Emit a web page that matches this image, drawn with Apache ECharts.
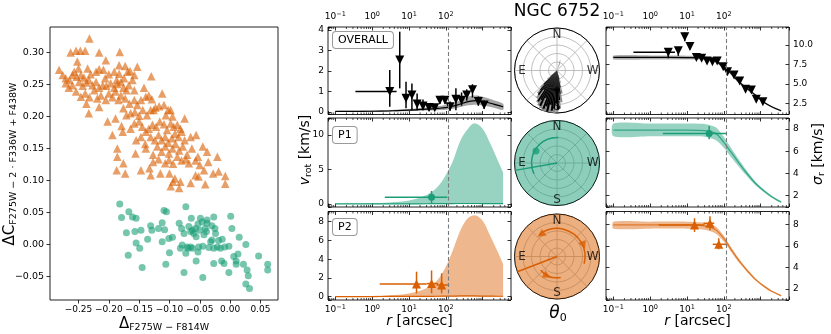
<!DOCTYPE html>
<html>
<head>
<meta charset="utf-8">
<script src="https://cdn.jsdelivr.net/npm/echarts@6/dist/echarts.min.js"></script>
<style>
  html, body { margin: 0; padding: 0; background: #fff; }
  #chart { width: 831px; height: 334px; }
</style>
</head>
<body>
<div id="chart"></div>
<script>
const FONT = 'DejaVu Sans';
const GREEN = '#1b9e77';
const ORANGE = '#d95f02';
const INK = '#000';

// ---- left panel: colour-colour plane ----
const xRangeCC = [-0.297, 0.079];
const yRangeCC = [-0.087, 0.340];
const xTicksCC = [-0.25, -0.2, -0.15, -0.1, -0.05, 0, 0.05];
const yTicksCC = [-0.05, 0, 0.05, 0.1, 0.15, 0.2, 0.25, 0.3];
// P2 stars (orange triangles)
const p2Stars = [
  [-0.232,0.322],[-0.263,0.300],[-0.254,0.303],[-0.247,0.303],[-0.239,0.303],[-0.216,0.300],[-0.182,0.301],[-0.205,0.288],[-0.282,0.273],[-0.252,0.286],[-0.250,0.275],[-0.235,0.275],[-0.183,0.280],[-0.173,0.279],[-0.165,0.271],[-0.153,0.278],[-0.130,0.263],
  [-0.276,0.265],[-0.271,0.260],[-0.265,0.257],[-0.260,0.265],[-0.257,0.270],[-0.253,0.262],[-0.246,0.265],[-0.241,0.261],[-0.233,0.257],[-0.230,0.266],[-0.221,0.270],[-0.216,0.274],[-0.209,0.273],[-0.206,0.260],[-0.200,0.266],[-0.191,0.270],[-0.187,0.257],[-0.183,0.267],[-0.175,0.260],[-0.169,0.270],[-0.161,0.257],[-0.158,0.265],
  [-0.271,0.252],[-0.266,0.245],[-0.260,0.249],[-0.249,0.254],[-0.243,0.248],[-0.237,0.253],[-0.227,0.249],[-0.221,0.254],[-0.216,0.245],[-0.210,0.249],[-0.204,0.248],[-0.197,0.252],[-0.191,0.245],[-0.186,0.251],[-0.180,0.254],[-0.176,0.245],[-0.171,0.241],[-0.167,0.249],[-0.158,0.241],[-0.142,0.245],
  [-0.254,0.239],[-0.246,0.231],[-0.239,0.236],[-0.232,0.230],[-0.224,0.241],[-0.219,0.228],[-0.213,0.233],[-0.205,0.226],[-0.200,0.236],[-0.194,0.230],[-0.189,0.239],[-0.184,0.226],[-0.180,0.233],[-0.173,0.228],[-0.166,0.220],[-0.158,0.226],[-0.153,0.218],[-0.147,0.226],[-0.139,0.231],[-0.134,0.233],[-0.129,0.227],[-0.123,0.214],[-0.112,0.236],[-0.109,0.218],[-0.102,0.210],
  [-0.233,0.205],[-0.237,0.220],[-0.216,0.215],[-0.202,0.192],[-0.189,0.197],[-0.176,0.213],[-0.171,0.202],[-0.164,0.205],[-0.157,0.207],[-0.150,0.201],[-0.144,0.210],[-0.137,0.202],[-0.131,0.210],[-0.126,0.210],[-0.117,0.216],[-0.106,0.202],[-0.098,0.210],[-0.095,0.200],
  [-0.194,0.171],[-0.179,0.185],[-0.177,0.176],[-0.164,0.181],[-0.158,0.189],[-0.150,0.192],[-0.145,0.184],[-0.139,0.176],[-0.134,0.181],[-0.128,0.187],[-0.122,0.184],[-0.116,0.192],[-0.109,0.188],[-0.104,0.179],[-0.098,0.189],[-0.093,0.184],[-0.087,0.187],[-0.082,0.181],[-0.075,0.197],
  [-0.155,0.163],[-0.147,0.168],[-0.140,0.157],[-0.131,0.168],[-0.124,0.163],[-0.118,0.171],[-0.113,0.163],[-0.107,0.168],[-0.102,0.159],[-0.096,0.166],[-0.091,0.173],[-0.085,0.168],[-0.080,0.176],[-0.075,0.163],[-0.065,0.168],[-0.056,0.171],
  [-0.186,0.150],[-0.156,0.142],[-0.139,0.150],[-0.127,0.140],[-0.120,0.153],[-0.113,0.145],[-0.107,0.153],[-0.101,0.142],[-0.095,0.150],[-0.090,0.157],[-0.084,0.147],[-0.078,0.153],[-0.071,0.140],[-0.063,0.150],[-0.053,0.137],[-0.045,0.153],[-0.038,0.145],[-0.021,0.137],
  [-0.186,0.137],[-0.176,0.127],[-0.147,0.116],[-0.133,0.119],[-0.127,0.129],[-0.118,0.133],[-0.107,0.127],[-0.101,0.132],[-0.094,0.126],[-0.087,0.137],[-0.080,0.131],[-0.073,0.133],[-0.068,0.127],[-0.057,0.131],[-0.050,0.124],[-0.043,0.116],[-0.036,0.129],[-0.028,0.111],
  [-0.187,0.116],[-0.173,0.111],[-0.131,0.108],[-0.115,0.111],[-0.100,0.111],[-0.094,0.098],[-0.091,0.103],[-0.082,0.098],[-0.065,0.096],[-0.057,0.108],[-0.052,0.106],[-0.041,0.094],[-0.019,0.114],[-0.008,0.107],[-0.008,0.095],[-0.098,0.091],[-0.084,0.088]
];
// P1 stars (green circles)
const p1Stars = [
  [-0.182,0.063],[-0.179,0.042],[-0.167,0.051],[-0.161,0.043],[-0.155,0.041],[-0.171,0.018],[-0.157,0.020],[-0.147,0.022],[-0.155,0.002],[-0.168,-0.017],[-0.149,-0.006],[-0.136,0.008],[-0.131,0.029],[-0.129,0.022],[-0.118,0.025],[-0.112,0.034],[-0.109,0.053],[-0.105,0.051],[-0.108,0.023],[-0.112,0.004],[-0.101,0.009],[-0.095,0.011],[-0.100,-0.013],[-0.106,-0.031],[-0.145,-0.036],
  [-0.084,0.033],[-0.080,0.025],[-0.073,0.059],[-0.068,0.028],[-0.065,0.020],[-0.064,0.041],[-0.060,0.017],[-0.057,0.025],[-0.056,0.012],[-0.053,0.032],[-0.052,-0.004],[-0.071,-0.004],[-0.065,-0.004],[-0.076,0.017],[-0.069,-0.006],[-0.062,-0.006],[-0.050,0.022],[-0.049,0.041],[-0.046,0.035],[-0.043,0.015],[-0.041,0.025],[-0.039,0.020],[-0.038,0.038],
  [-0.035,-0.005],[-0.032,0.004],[-0.030,0.007],[-0.027,-0.006],[-0.024,0.017],[-0.021,-0.004],[-0.019,0.006],[-0.016,-0.006],[-0.013,0.008],[-0.009,-0.004],[-0.002,-0.003],[0.001,0.044],[0.003,0.025],[-0.025,0.025],[-0.030,0.029],[-0.027,0.043],[-0.038,0.033],[-0.045,-0.003],[-0.053,-0.012],[-0.062,0.022],[-0.073,-0.014],[-0.082,-0.006],[-0.079,-0.001],
  [-0.076,-0.044],[-0.056,-0.026],[-0.045,-0.052],[-0.027,-0.030],[-0.014,-0.026],[-0.010,-0.030],[-0.002,-0.044],[0.006,-0.019],[0.010,-0.026],[0.010,-0.031],[0.013,-0.015],[0.015,0.011],[0.022,-0.031],[0.026,0.000],[0.028,-0.040],[0.030,-0.049],[0.026,-0.062],[0.032,-0.069],[0.047,-0.018],[0.062,-0.031],[0.062,-0.040]
];

// ---- radial profiles ----
const rRange = [0.063, 5900];
const rCut = 120;
const rMinor = [0.07,0.08,0.09,0.2,0.3,0.4,0.5,0.6,0.7,0.8,0.9,2,3,4,5,6,7,8,9,20,30,40,50,60,70,80,90,200,300,400,500,600,700,800,900,2000,3000,4000,5000];

const vRanges = [[-0.13, 4.15], [-0.43, 12.46], [-0.35, 9.09]];
const vSteps = [1, 5, 2];
const sRanges = [[1.05, 12.32], [0.97, 8.99], [0.99, 9.19]];
const sSteps = [2.5, 2, 2];

// model of v_rot, overall sample
const rModelV = [0.1, 0.3, 1, 3, 10, 30, 60, 100, 200, 400, 700, 1200, 2000, 3600];
const ovVMid = [0.02, 0.02, 0.03, 0.05, 0.08, 0.13, 0.17, 0.21, 0.33, 0.5, 0.55, 0.48, 0.38, 0.25];
const ovVLo  = [0.0, 0.0, 0.01, 0.02, 0.03, 0.06, 0.08, 0.1, 0.19, 0.32, 0.35, 0.3, 0.2, 0.1];
const ovVHi  = [0.04, 0.05, 0.06, 0.09, 0.14, 0.21, 0.27, 0.33, 0.5, 0.74, 0.8, 0.7, 0.57, 0.4];
// upper envelope of v_rot for P1 / P2
const rModelA = [0.1, 1, 3, 10, 30, 60, 100, 150, 250, 400, 600, 1000, 1600, 2500, 3600];
const p1VHi  = [0.05, 0.12, 0.22, 0.5, 1.3, 2.5, 4.2, 6.0, 9.2, 10.9, 11.7, 10.9, 8.8, 6.5, 4.6];
const p1VMid = [0.02, 0.02, 0.03, 0.03, 0.04, 0.05, 0.06, 0.07, 0.08, 0.08, 0.08, 0.07, 0.06, 0.05, 0.05];
const p2VHi  = [0.03, 0.08, 0.15, 0.35, 0.9, 1.8, 3.2, 4.8, 7.1, 8.4, 8.7, 8.1, 6.5, 4.9, 3.5];
const p2VMid = [0.02, 0.02, 0.03, 0.03, 0.04, 0.05, 0.06, 0.07, 0.08, 0.08, 0.08, 0.07, 0.06, 0.05, 0.05];
// dispersion models
const rModelS = [0.1, 1, 10, 30, 60, 100, 150, 250, 400, 700, 1200, 2000, 3600];
const ovSMid = [8.4, 8.4, 8.38, 8.3, 7.95, 7.1, 6.45, 5.3, 4.5, 3.6, 2.65, 2.05, 1.53];
const ovSLo  = [8.15, 8.15, 8.13, 8.05, 7.72, 6.9, 6.25, 5.12, 4.33, 3.45, 2.53, 1.95, 1.43];
const ovSHi  = [8.65, 8.65, 8.63, 8.55, 8.18, 7.3, 6.65, 5.48, 4.67, 3.75, 2.77, 2.15, 1.63];
const p1SMid = [7.9, 7.9, 7.9, 7.85, 7.6, 6.8, 6.0, 5.0, 4.1, 3.15, 2.45, 1.9, 1.42];
const p1SLo  = [7.35, 7.35, 7.35, 7.3, 7.0, 6.3, 5.55, 4.65, 3.85, 2.97, 2.32, 1.8, 1.33];
const p1SHi  = [8.5, 8.5, 8.5, 8.45, 8.15, 7.3, 6.4, 5.3, 4.35, 3.32, 2.57, 1.99, 1.5];
const p2SMid = [7.95, 7.95, 7.95, 7.85, 7.5, 6.7, 5.8, 4.7, 3.85, 2.95, 2.3, 1.8, 1.4];
const p2SLo  = [7.6, 7.6, 7.6, 7.5, 7.15, 6.4, 5.55, 4.5, 3.7, 2.83, 2.2, 1.73, 1.34];
const p2SHi  = [8.25, 8.25, 8.25, 8.15, 7.8, 6.95, 6.0, 4.88, 3.98, 3.05, 2.38, 1.87, 1.46];

// binned measurements
const ovVR   = [3.0, 5.6, 8.3, 12, 16.6, 24, 35, 50, 69, 95, 130, 188, 268, 370, 530, 765, 1100];
const ovVV   = [1.0, 2.53, 0.66, 0.82, 0.38, 0.28, 0.21, 0.2, 0.57, 0.57, 0.25, 0.62, 0.57, 0.82, 1.08, 0.5, 0.34];
const ovVVlo = [0.25, 1.15, 0.17, 0.08, 0.08, 0.08, 0.05, 0.08, 0.4, 0.4, 0.05, 0.08, 0.3, 0.55, 0.7, 0.3, 0.15];
const ovVVhi = [2.05, 3.92, 1.47, 1.39, 0.9, 0.6, 0.4, 0.35, 0.75, 0.75, 0.5, 1.16, 0.95, 1.1, 1.35, 0.75, 0.55];
const ovVRlo = [0.35, 5.6, 8.3, 12, 16.6, 24, 35, 50, 69, 95, 130, 188, 268, 370, 530, 765, 1100];
const ovVRhi = [4.6, 5.6, 8.3, 12, 16.6, 24, 35, 50, 69, 95, 130, 188, 268, 370, 530, 765, 1100];

const ovSR   = [3.1, 5.8, 8.7, 12, 18, 25, 35, 49, 66, 96, 126, 190, 270, 390, 560, 760, 1150];
const ovSS   = [9.06, 9.27, 11.07, 9.8, 8.4, 8.28, 7.94, 7.85, 7.94, 7.2, 6.56, 6.13, 5.36, 4.29, 4.2, 3.0, 2.7];
const ovSSlo = [8.29, 8.6, 10.5, 9.45, 8.15, 8.05, 7.72, 7.62, 7.7, 6.95, 6.32, 5.88, 5.08, 4.02, 3.93, 2.75, 2.45];
const ovSShi = [9.57, 9.75, 11.6, 10.15, 8.65, 8.5, 8.16, 8.08, 8.18, 7.45, 6.8, 6.38, 5.64, 4.56, 4.47, 3.25, 2.95];
const ovSRlo = [0.35, 5.8, 8.7, 12, 18, 25, 35, 49, 66, 96, 126, 190, 270, 390, 560, 760, 1150];
const ovSRhi = [4.7, 5.8, 8.7, 12, 18, 25, 35, 49, 66, 96, 126, 190, 270, 390, 560, 760, 1150];

const p1VR = [41], p1VV = [0.97], p1VVlo = [0.1], p1VVhi = [1.9], p1VRlo = [2.2], p1VRhi = [110];
const p1SR = [40], p1SS = [7.6], p1SSlo = [7.07], p1SShi = [8.27], p1SRlo = [2.2], p1SRhi = [117];
const p2VR = [16, 41, 77], p2VV = [1.35, 1.4, 1.25], p2VVlo = [0.36, 0.36, 0.36], p2VVhi = [2.67, 2.8, 2.5];
const p2VRlo = [1.6, 30, 56], p2VRhi = [30, 62, 123];
const p2SR = [16, 42, 73], p2SS = [7.94, 8.1, 6.15], p2SSlo = [7.3, 7.45, 5.7], p2SShi = [8.56, 8.75, 6.7];
const p2SRlo = [1.7, 28, 50], p2SRhi = [30, 55, 120];

// ---- position-angle panels ----
const histPA = [132,135,138,141,144,147,150,153,156,159,162,165,168,171,174,177,180,183,186,189,192];
const histR  = [0.2,0.45,0.6,0.72,0.55,0.85,0.78,0.92,0.7,0.96,0.88,1.0,0.82,0.95,0.9,0.78,0.92,0.7,0.55,0.4,0.2];
const histW = 3;
const shadePA = [130,134,138,142,146,150,154,158,162,166,170,174,178,182,186,190,194,336,340];
const shadeR  = [0.3,0.55,0.7,0.8,0.88,0.93,0.97,1.0,1.0,1.0,1.0,1.0,0.97,0.9,0.75,0.55,0.3,0.2,0.25];
const shadeW = 4;
const p1Theta = 100, p2Theta = 111;
const p1Arcs = [[0.6, 357, 115]];
const p1Dot = [[0.57, 60]];
const p2Arcs = [[0.66, 255, 40], [0.5, 130, 190]];
const p2Heads = [[0.64, 36, 126], [0.68, 293, 203], [0.51, 153, 245]];
const compassTxt = ['N', 'E', 'S', 'W'];
const compassPA = [0, 90, 180, 270];
const compassR = [0.85, 0.82, 0.86, 0.84];

// ---------------------------------------------------------------
const onStep = (v, step) => Math.abs(v / step - Math.round(v / step)) < 1e-6;
const minus = s => s.replace('-', '\u2212');
const zip = (a, b) => a.map((x, i) => [x, b[i]]);
const tickLine = {color: INK, width: 0.8};

const grids = [{left: 50, top: 27, width: 228, height: 273}];
const gridTops = [27, 118, 211.5], gridHeights = [87.5, 89, 88.5];
[328, 606].forEach(l => gridTops.forEach((t, i) => grids.push({left: l, top: t, width: 183, height: gridHeights[i]})));
grids.forEach(g => Object.assign(g, {show: true, borderColor: '#222', borderWidth: 1, outerBoundsMode: 'none'}));

function logAxis(k, pos, labels) {
  return {
    type: 'log', gridIndex: k + 1, position: pos, min: rRange[0], max: rRange[1], logBase: 10,
    axisLine: {show: false, onZero: false}, splitLine: {show: false},
    axisTick: {show: true, inside: true, length: 3.5, lineStyle: tickLine},
    axisLabel: {
      show: labels, margin: 4, color: INK, fontFamily: FONT, fontSize: 9,
      formatter: v => {
        const l = Math.log10(v), e = Math.round(l);
        if (Math.abs(l - e) > 1e-6 || e > 2) return '';
        return '{b|10}{s|' + (e < 0 ? '\u2212' + (-e) : e) + '}';
      },
      rich: {
        b: {fontSize: 9, lineHeight: 12, fontFamily: FONT, color: INK},
        s: {fontSize: 6.5, lineHeight: 6, verticalAlign: 'top', fontFamily: FONT, color: INK}
      }
    }
  };
}
function valAxis(k, pos, range, step, labels, digits) {
  return {
    type: 'value', gridIndex: k + 1, position: pos, min: range[0], max: range[1],
    minInterval: step, maxInterval: step, splitNumber: Math.round((range[1] - range[0]) / step),
    axisLine: {show: false, onZero: false}, splitLine: {show: false},
    axisTick: {show: true, inside: true, length: 3.5, lineStyle: tickLine},
    axisLabel: {show: labels, margin: 4, color: INK, fontFamily: FONT, fontSize: 9,
      formatter: v => onStep(v, step) ? v.toFixed(digits) : ''}
  };
}

const ccLabel = v => onStep(v, 0.05) ? minus((Math.abs(v) < 1e-9 ? 0 : v).toFixed(2)) : '';
const xAxes = [{
  type: 'value', gridIndex: 0, min: xRangeCC[0], max: xRangeCC[1], minInterval: 0.05, maxInterval: 0.05, splitNumber: 8,
  axisLine: {show: false, onZero: false}, splitLine: {show: false},
  axisTick: {show: true, length: 3.5, lineStyle: tickLine, customValues: xTicksCC},
  axisLabel: {margin: 5, color: INK, fontFamily: FONT, fontSize: 9, formatter: ccLabel, customValues: xTicksCC}
}];
const yAxes = [{
  type: 'value', gridIndex: 0, min: yRangeCC[0], max: yRangeCC[1], minInterval: 0.05, maxInterval: 0.05, splitNumber: 8,
  axisLine: {show: false, onZero: false}, splitLine: {show: false},
  axisTick: {show: true, length: 3.5, lineStyle: tickLine, customValues: yTicksCC},
  axisLabel: {margin: 6, color: INK, fontFamily: FONT, fontSize: 9.5, formatter: ccLabel, customValues: yTicksCC}
}];
for (let k = 0; k < 6; k++) {
  const row = k % 3, sigma = k >= 3;
  xAxes.push(logAxis(k, 'bottom', row === 2));
  xAxes.push(logAxis(k, 'top', row === 0));
  const range = sigma ? sRanges[row] : vRanges[row];
  const step = sigma ? sSteps[row] : vSteps[row];
  const digits = step === 2.5 ? 1 : 0;
  yAxes.push(valAxis(k, 'left', range, step, !sigma, digits));
  yAxes.push(valAxis(k, 'right', range, step, sigma, digits));
}

const cutLine = {
  silent: true, symbol: ['none', 'none'], label: {show: false},
  lineStyle: {color: '#7a7a7a', type: [4, 2.5], width: 1.1}, data: [{xAxis: rCut}]
};
const ax = k => ({xAxisIndex: 1 + 2 * k, yAxisIndex: 1 + 2 * k});

// credible band: one polygon through the axis scales
function bandSeries(k, xs, lo, hi, color) {
  return Object.assign({
    type: 'custom', silent: true, encode: {x: 0, y: 1},
    data: [[xs[0], lo[0]]],
    renderItem: (params, api) => {
      const top = xs.map((x, i) => api.coord([x, hi[i]]));
      const bot = xs.map((x, i) => api.coord([x, lo[i]])).reverse();
      return {type: 'polygon', shape: {points: top.concat(bot), smooth: 0.25}, style: {fill: color}};
    }
  }, ax(k));
}
function areaSeries(k, xs, hi, color) {
  return Object.assign({type: 'line', data: zip(xs, hi), symbol: 'none', smooth: 0.35,
    lineStyle: {opacity: 0}, areaStyle: {color: color, opacity: 1}, silent: true}, ax(k));
}
function lineSeries(k, xs, ys, color, width) {
  return Object.assign({type: 'line', data: zip(xs, ys), symbol: 'none', smooth: 0.3,
    lineStyle: {color: color, width: width}, silent: true, markLine: cutLine}, ax(k));
}
function errSeries(k, r, v, rlo, rhi, vlo, vhi, color) {
  return Object.assign({
    type: 'custom', silent: true, encode: {x: 0, y: 1},
    data: r.map((x, i) => [x, v[i], rlo[i], rhi[i], vlo[i], vhi[i]]),
    renderItem: (params, api) => {
      const x = api.value(0), y = api.value(1);
      const a = api.coord([api.value(2), y]), b = api.coord([api.value(3), y]);
      const c = api.coord([x, api.value(4)]), d = api.coord([x, api.value(5)]);
      return {type: 'group', children: [
        {type: 'line', shape: {x1: a[0], y1: a[1], x2: b[0], y2: b[1]}, style: {stroke: color, lineWidth: 1.5}},
        {type: 'line', shape: {x1: c[0], y1: c[1], x2: d[0], y2: d[1]}, style: {stroke: color, lineWidth: 1.5}}
      ]};
    }
  }, ax(k));
}
function pointSeries(k, r, v, color, symbol, rot, size) {
  return Object.assign({type: 'scatter', data: zip(r, v), symbol: symbol, symbolRotate: rot,
    symbolSize: size, itemStyle: {color: color, opacity: 1}, silent: true, z: 4}, ax(k));
}
function minorSeries(k) {
  return Object.assign({
    type: 'custom', silent: true, clip: false, encode: {x: 0, y: 1},
    data: rMinor.map(v => [v, 1]),
    renderItem: (params, api) => {
      const cs = params.coordSys;
      const x = api.coord([api.value(0), 1])[0];
      const yb = cs.y + cs.height, yt = cs.y;
      return {type: 'group', children: [
        {type: 'line', shape: {x1: x, y1: yb, x2: x, y2: yb - 2}, style: {stroke: INK, lineWidth: 0.7}},
        {type: 'line', shape: {x1: x, y1: yt, x2: x, y2: yt + 2}, style: {stroke: INK, lineWidth: 0.7}}
      ]};
    }
  }, ax(k));
}

// polar helpers
const polarXY = (api, r, a) => api.coord([r, a]);
function sectorSeries(pi, starts, radii, width, color) {
  return {
    type: 'custom', coordinateSystem: 'polar', polarIndex: pi, silent: true, encode: {radius: 0, angle: 1},
    data: starts.map((a, i) => [radii[i], a, a + width]),
    renderItem: (params, api) => {
      const c = polarXY(api, 0, 0), r = api.value(0);
      const p0 = polarXY(api, r, api.value(1)), p1 = polarXY(api, r, api.value(2));
      return {type: 'sector', shape: {
        cx: c[0], cy: c[1], r0: 0, r: Math.hypot(p0[0] - c[0], p0[1] - c[1]),
        startAngle: Math.atan2(p0[1] - c[1], p0[0] - c[0]),
        endAngle: Math.atan2(p1[1] - c[1], p1[0] - c[0]), clockwise: false
      }, style: {fill: color}};
    }
  };
}
function diskSeries(pi, color) {
  return {
    type: 'custom', coordinateSystem: 'polar', polarIndex: pi, silent: true, encode: {radius: 0, angle: 1},
    data: [[1, 0]],
    renderItem: (params, api) => {
      const c = polarXY(api, 0, 0), p = polarXY(api, api.value(0), 0);
      return {type: 'circle', shape: {cx: c[0], cy: c[1], r: Math.hypot(p[0] - c[0], p[1] - c[1])}, style: {fill: color}};
    }
  };
}
function arcSeries(pi, arcs, color) {
  return {
    type: 'custom', coordinateSystem: 'polar', polarIndex: pi, silent: true, encode: {radius: 0, angle: 1},
    data: arcs,
    renderItem: (params, api) => {
      const c = polarXY(api, 0, 0), r = api.value(0);
      const p0 = polarXY(api, r, api.value(1)), p1 = polarXY(api, r, api.value(2));
      return {type: 'arc', shape: {
        cx: c[0], cy: c[1], r: Math.hypot(p0[0] - c[0], p0[1] - c[1]),
        startAngle: Math.atan2(p0[1] - c[1], p0[0] - c[0]),
        endAngle: Math.atan2(p1[1] - c[1], p1[0] - c[0]), clockwise: false
      }, style: {stroke: color, lineWidth: 1.5, fill: 'none'}};
    }
  };
}
function raySeries(pi, pa, color) {
  return {type: 'line', coordinateSystem: 'polar', polarIndex: pi, silent: true, symbol: 'none',
    data: [[0, pa], [1, pa]], lineStyle: {color: color, width: 1.5}};
}
function compassSeries(pi) {
  return {
    type: 'scatter', coordinateSystem: 'polar', polarIndex: pi, silent: true, symbolSize: 1,
    itemStyle: {color: 'rgba(0,0,0,0)'}, z: 6,
    data: compassPA.map((a, j) => ({value: [compassR[j], a], name: compassTxt[j]})),
    label: {show: true, position: 'inside', formatter: '{b}', fontSize: 12, color: INK, fontFamily: FONT}
  };
}

const polarCenters = [[557, 70.5], [557, 163], [557, 256.5]];

const series = [
  {type: 'scatter', xAxisIndex: 0, yAxisIndex: 0, data: p2Stars, symbol: 'triangle', symbolSize: 8.5,
    itemStyle: {color: 'rgba(217,95,2,0.75)'}, silent: true},
  {type: 'scatter', xAxisIndex: 0, yAxisIndex: 0, data: p1Stars, symbol: 'circle', symbolSize: 7,
    itemStyle: {color: 'rgba(27,158,119,0.75)'}, silent: true},

  bandSeries(0, rModelV, ovVLo, ovVHi, 'rgba(90,90,90,0.55)'),
  lineSeries(0, rModelV, ovVMid, '#000', 1.2),
  errSeries(0, ovVR, ovVV, ovVRlo, ovVRhi, ovVVlo, ovVVhi, '#000'),
  pointSeries(0, ovVR, ovVV, '#000', 'triangle', 180, 9),

  areaSeries(1, rModelA, p1VHi, 'rgba(27,158,119,0.45)'),
  lineSeries(1, rModelA, p1VMid, GREEN, 1.2),
  errSeries(1, p1VR, p1VV, p1VRlo, p1VRhi, p1VVlo, p1VVhi, GREEN),
  pointSeries(1, p1VR, p1VV, GREEN, 'circle', 0, 7),

  areaSeries(2, rModelA, p2VHi, 'rgba(217,95,2,0.45)'),
  lineSeries(2, rModelA, p2VMid, ORANGE, 1.2),
  errSeries(2, p2VR, p2VV, p2VRlo, p2VRhi, p2VVlo, p2VVhi, ORANGE),
  pointSeries(2, p2VR, p2VV, ORANGE, 'triangle', 0, 9),

  bandSeries(3, rModelS, ovSLo, ovSHi, 'rgba(110,110,110,0.55)'),
  lineSeries(3, rModelS, ovSMid, '#000', 1.2),
  errSeries(3, ovSR, ovSS, ovSRlo, ovSRhi, ovSSlo, ovSShi, '#000'),
  pointSeries(3, ovSR, ovSS, '#000', 'triangle', 180, 9),

  bandSeries(4, rModelS, p1SLo, p1SHi, 'rgba(27,158,119,0.45)'),
  lineSeries(4, rModelS, p1SMid, 'rgba(27,158,119,0.8)', 1.3),
  errSeries(4, p1SR, p1SS, p1SRlo, p1SRhi, p1SSlo, p1SShi, GREEN),
  pointSeries(4, p1SR, p1SS, GREEN, 'circle', 0, 7),

  bandSeries(5, rModelS, p2SLo, p2SHi, 'rgba(217,95,2,0.45)'),
  lineSeries(5, rModelS, p2SMid, 'rgba(217,95,2,0.7)', 1.3),
  errSeries(5, p2SR, p2SS, p2SRlo, p2SRhi, p2SSlo, p2SShi, ORANGE),
  pointSeries(5, p2SR, p2SS, ORANGE, 'triangle', 0, 9),

  ...[0, 1, 2, 3, 4, 5].map(minorSeries),

  sectorSeries(0, shadePA, shadeR, shadeW, '#8c8c8c'),
  sectorSeries(0, histPA, histR, histW, '#000'),
  compassSeries(0),

  diskSeries(1, 'rgba(27,158,119,0.5)'),
  raySeries(1, p1Theta, GREEN),
  arcSeries(1, p1Arcs, GREEN),
  {type: 'scatter', coordinateSystem: 'polar', polarIndex: 1, silent: true, data: p1Dot,
    symbol: 'circle', symbolSize: 7, itemStyle: {color: GREEN}, z: 4},
  compassSeries(1),

  diskSeries(2, 'rgba(217,95,2,0.5)'),
  raySeries(2, p2Theta, ORANGE),
  arcSeries(2, p2Arcs, ORANGE),
  {type: 'scatter', coordinateSystem: 'polar', polarIndex: 2, silent: true, symbol: 'triangle', symbolSize: 8,
    itemStyle: {color: ORANGE}, z: 4,
    data: p2Heads.map(h => ({value: [h[0], h[1]], symbolRotate: h[2]}))},
  compassSeries(2)
];

const boxStyle = {fontSize: 11, fontFamily: FONT, fill: INK, backgroundColor: '#fff',
  borderColor: '#9a9a9a', borderWidth: 1, borderRadius: 3, padding: [3, 5, 2, 5]};
const big = {fontSize: 15, fontFamily: FONT, lineHeight: 18};
const sub = {fontSize: 9.5, fontFamily: FONT, lineHeight: 8, verticalAlign: 'bottom'};
const ital = {fontSize: 14, fontFamily: FONT, fontStyle: 'italic', lineHeight: 18};
const reg = {fontSize: 14, fontFamily: FONT, lineHeight: 18};
const centred = {align: 'center', verticalAlign: 'middle', fill: INK};

const graphic = [
  {type: 'text', x: 557, y: 12, style: Object.assign({text: 'NGC 6752', fontSize: 17, fontFamily: FONT}, centred)},
  {type: 'text', x: 558, y: 314, style: Object.assign({text: '{a|θ}{b|0}',
    rich: {a: {fontSize: 17, fontFamily: FONT, fontStyle: 'italic', lineHeight: 20}, b: {fontSize: 11, fontFamily: FONT, lineHeight: 9, verticalAlign: 'bottom'}}}, centred)},
  {type: 'text', x: 164, y: 324, style: Object.assign({text: '{a|Δ}{b|F275W − F814W}', rich: {a: big, b: sub}}, centred)},
  {type: 'text', x: 10, y: 164, rotation: Math.PI / 2, style: Object.assign({text: '{a|ΔC}{b|F275W − 2 · F336W + F438W}', rich: {a: big, b: sub}}, centred)},
  {type: 'text', x: 305, y: 150, rotation: Math.PI / 2, style: Object.assign({text: '{a|v}{b|rot}{c| [km/s]}', rich: {a: ital, b: sub, c: reg}}, centred)},
  {type: 'text', x: 818, y: 154, rotation: Math.PI / 2, style: Object.assign({text: '{a|σ}{b|r}{c| [km/s]}', rich: {a: ital, b: sub, c: reg}}, centred)},
  {type: 'text', x: 419.5, y: 321, style: Object.assign({text: '{a|r}{c| [arcsec]}', rich: {a: ital, c: reg}}, centred)},
  {type: 'text', x: 697.5, y: 321, style: Object.assign({text: '{a|r}{c| [arcsec]}', rich: {a: ital, c: reg}}, centred)},
  {type: 'text', x: 333, y: 32, z: 100, style: Object.assign({text: 'OVERALL'}, boxStyle)},
  {type: 'text', x: 333, y: 127, z: 100, style: Object.assign({text: 'P1'}, boxStyle)},
  {type: 'text', x: 333, y: 219, z: 100, style: Object.assign({text: 'P2'}, boxStyle)}
];

const chart = echarts.init(document.getElementById('chart'));
chart.setOption({
  animation: false,
  backgroundColor: '#fff',
  textStyle: {fontFamily: FONT},
  grid: grids,
  xAxis: xAxes,
  yAxis: yAxes,
  polar: polarCenters.map(c => ({center: c, radius: 42.5})),
  angleAxis: polarCenters.map((c, i) => ({
    polarIndex: i, type: 'value', min: 0, max: 360, interval: 45, startAngle: 90, clockwise: false,
    axisLine: {lineStyle: {color: INK, width: 1}}, axisTick: {show: false}, axisLabel: {show: false},
    splitLine: {show: true, lineStyle: {color: '#b0b0b0', width: 0.8}}
  })),
  radiusAxis: polarCenters.map((c, i) => ({
    polarIndex: i, type: 'value', min: 0, max: 1, interval: 0.2,
    axisLine: {show: false}, axisTick: {show: false}, axisLabel: {show: false},
    splitLine: {show: true, lineStyle: {color: '#b0b0b0', width: 0.8}}
  })),
  series: series,
  graphic: graphic
});
</script>
</body>
</html>
